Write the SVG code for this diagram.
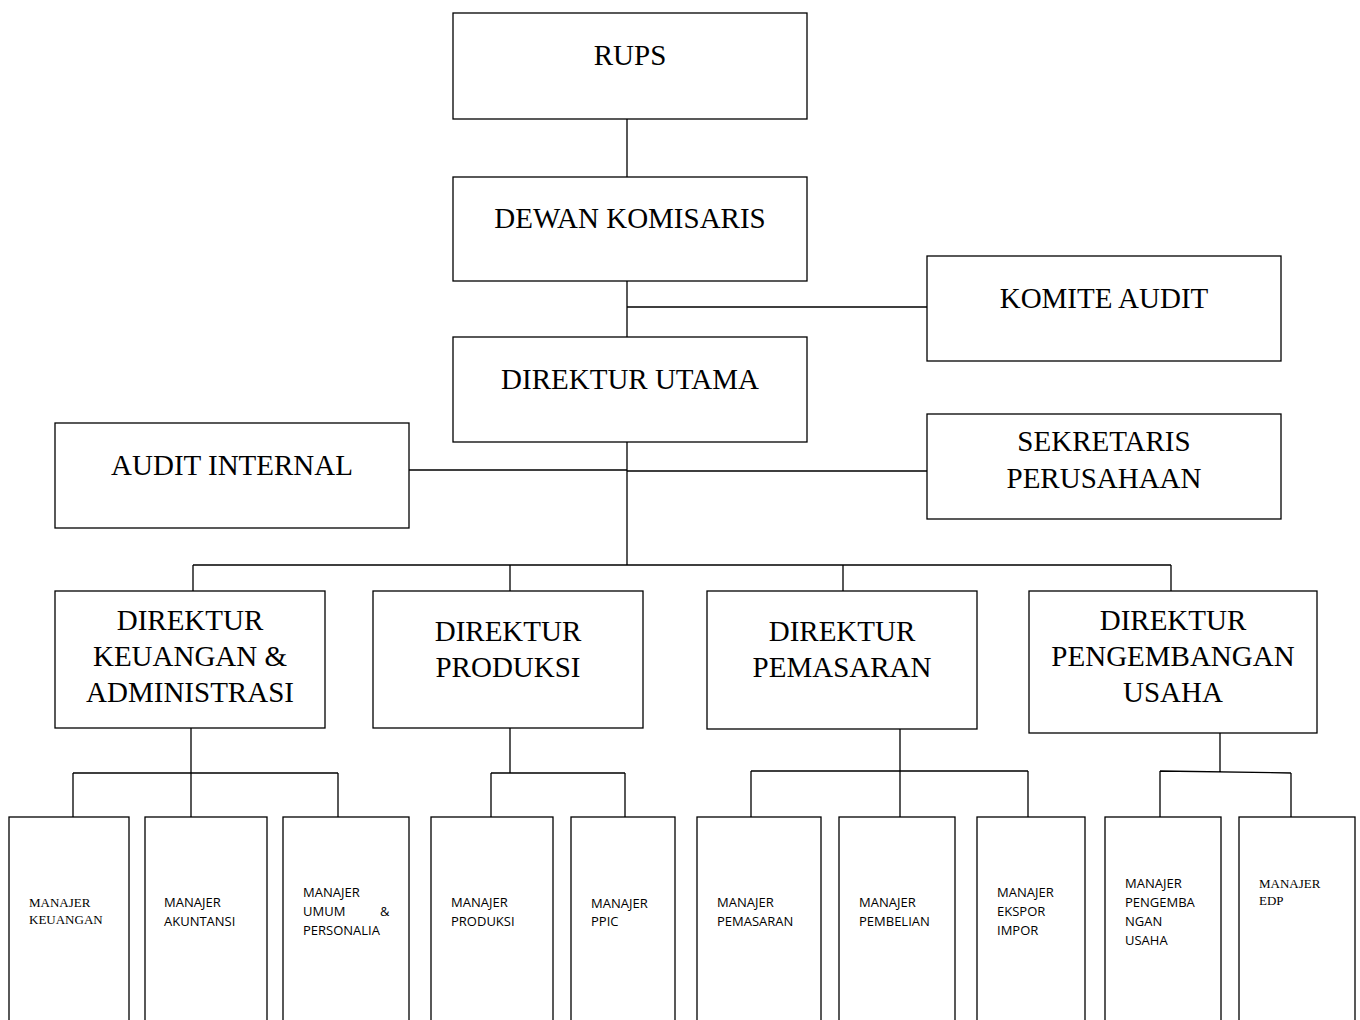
<svg xmlns="http://www.w3.org/2000/svg" width="1360" height="1020" viewBox="0 0 1360 1020">
<style>
.box{fill:#fff;stroke:#000;stroke-width:1.3}
.ln{fill:none;stroke:#000;stroke-width:1.3}
.big{font-family:"Liberation Serif","Times New Roman",serif;font-size:29px;fill:#000;text-anchor:middle}
.ser{font-family:"Liberation Serif","Times New Roman",serif;font-size:13px;fill:#000}
.sans{font-family:"Open Sans","Noto Sans",sans-serif;font-size:13px;fill:#000}
</style>
<rect width="1360" height="1020" fill="#fff"/>
<g id="connectors">
<path class="ln" d="M627 119V177M627 281V337M627 307H927M627 442V565M409 470H627M627 471H927"/>
<path class="ln" d="M193 565H1171M193 565V591M510 565V591M843 565V591M1171 565V591"/>
<path class="ln" d="M191 728V773M73 773H338M73 773V817M191 773V817M338 773V817"/>
<path class="ln" d="M510 728V773M491 773H625M491 773V817M625 773V817"/>
<path class="ln" d="M900 729V771M751 771H1028M751 771V817M900 771V817M1028 771V817"/>
<path class="ln" d="M1220 733V772M1160 771L1291 773M1160 771V817M1291 773V817"/>
</g>
<g id="rups"><rect class="box" x="453" y="13" width="354" height="106"/><text class="big" x="630" y="65">RUPS</text></g>
<g id="dewan-komisaris"><rect class="box" x="453" y="177" width="354" height="104"/><text class="big" x="630" y="228">DEWAN KOMISARIS</text></g>
<g id="komite-audit"><rect class="box" x="927" y="256" width="354" height="105"/><text class="big" x="1104" y="308">KOMITE AUDIT</text></g>
<g id="direktur-utama"><rect class="box" x="453" y="337" width="354" height="105"/><text class="big" x="630" y="389">DIREKTUR UTAMA</text></g>
<g id="audit-internal"><rect class="box" x="55" y="423" width="354" height="105"/><text class="big" x="232" y="475">AUDIT INTERNAL</text></g>
<g id="sekretaris"><rect class="box" x="927" y="414" width="354" height="105"/><text class="big" x="1104" y="451">SEKRETARIS</text><text class="big" x="1104" y="488">PERUSAHAAN</text></g>
<g id="dir-keuangan"><rect class="box" x="55" y="591" width="270" height="137"/><text class="big" x="190" y="630">DIREKTUR</text><text class="big" x="190" y="666">KEUANGAN &amp;</text><text class="big" x="190" y="702">ADMINISTRASI</text></g>
<g id="dir-produksi"><rect class="box" x="373" y="591" width="270" height="137"/><text class="big" x="508" y="641">DIREKTUR</text><text class="big" x="508" y="677">PRODUKSI</text></g>
<g id="dir-pemasaran"><rect class="box" x="707" y="591" width="270" height="138"/><text class="big" x="842" y="641">DIREKTUR</text><text class="big" x="842" y="677">PEMASARAN</text></g>
<g id="dir-pengembangan"><rect class="box" x="1029" y="591" width="288" height="142"/><text class="big" x="1173" y="630">DIREKTUR</text><text class="big" x="1173" y="666">PENGEMBANGAN</text><text class="big" x="1173" y="702">USAHA</text></g>
<g id="m-keuangan"><rect class="box" x="9" y="817" width="120" height="215"/><text class="ser" x="29" y="907">MANAJER</text><text class="ser" x="29" y="924">KEUANGAN</text></g>
<g id="m-akuntansi"><rect class="box" x="145" y="817" width="122" height="215"/><text class="sans" x="164" y="907">MANAJER</text><text class="sans" x="164" y="926">AKUNTANSI</text></g>
<g id="m-umum"><rect class="box" x="283" y="817" width="126" height="215"/><text class="sans" x="303" y="897">MANAJER</text><text class="sans" x="303" y="916">UMUM</text><text class="sans" x="380" y="916">&amp;</text><text class="sans" x="303" y="935">PERSONALIA</text></g>
<g id="m-produksi"><rect class="box" x="431" y="817" width="122" height="215"/><text class="sans" x="451" y="907">MANAJER</text><text class="sans" x="451" y="926">PRODUKSI</text></g>
<g id="m-ppic"><rect class="box" x="571" y="817" width="104" height="215"/><text class="sans" x="591" y="908">MANAJER</text><text class="sans" x="591" y="926">PPIC</text></g>
<g id="m-pemasaran"><rect class="box" x="697" y="817" width="124" height="215"/><text class="sans" x="717" y="907">MANAJER</text><text class="sans" x="717" y="926">PEMASARAN</text></g>
<g id="m-pembelian"><rect class="box" x="839" y="817" width="116" height="215"/><text class="sans" x="859" y="907">MANAJER</text><text class="sans" x="859" y="926">PEMBELIAN</text></g>
<g id="m-ekspor"><rect class="box" x="977" y="817" width="108" height="215"/><text class="sans" x="997" y="897">MANAJER</text><text class="sans" x="997" y="916">EKSPOR</text><text class="sans" x="997" y="935">IMPOR</text></g>
<g id="m-pengembangan"><rect class="box" x="1105" y="817" width="116" height="215"/><text class="sans" x="1125" y="888">MANAJER</text><text class="sans" x="1125" y="907">PENGEMBA</text><text class="sans" x="1125" y="926">NGAN</text><text class="sans" x="1125" y="945">USAHA</text></g>
<g id="m-edp"><rect class="box" x="1239" y="817" width="116" height="215"/><text class="ser" x="1259" y="888">MANAJER</text><text class="ser" x="1259" y="905">EDP</text></g>
</svg>
